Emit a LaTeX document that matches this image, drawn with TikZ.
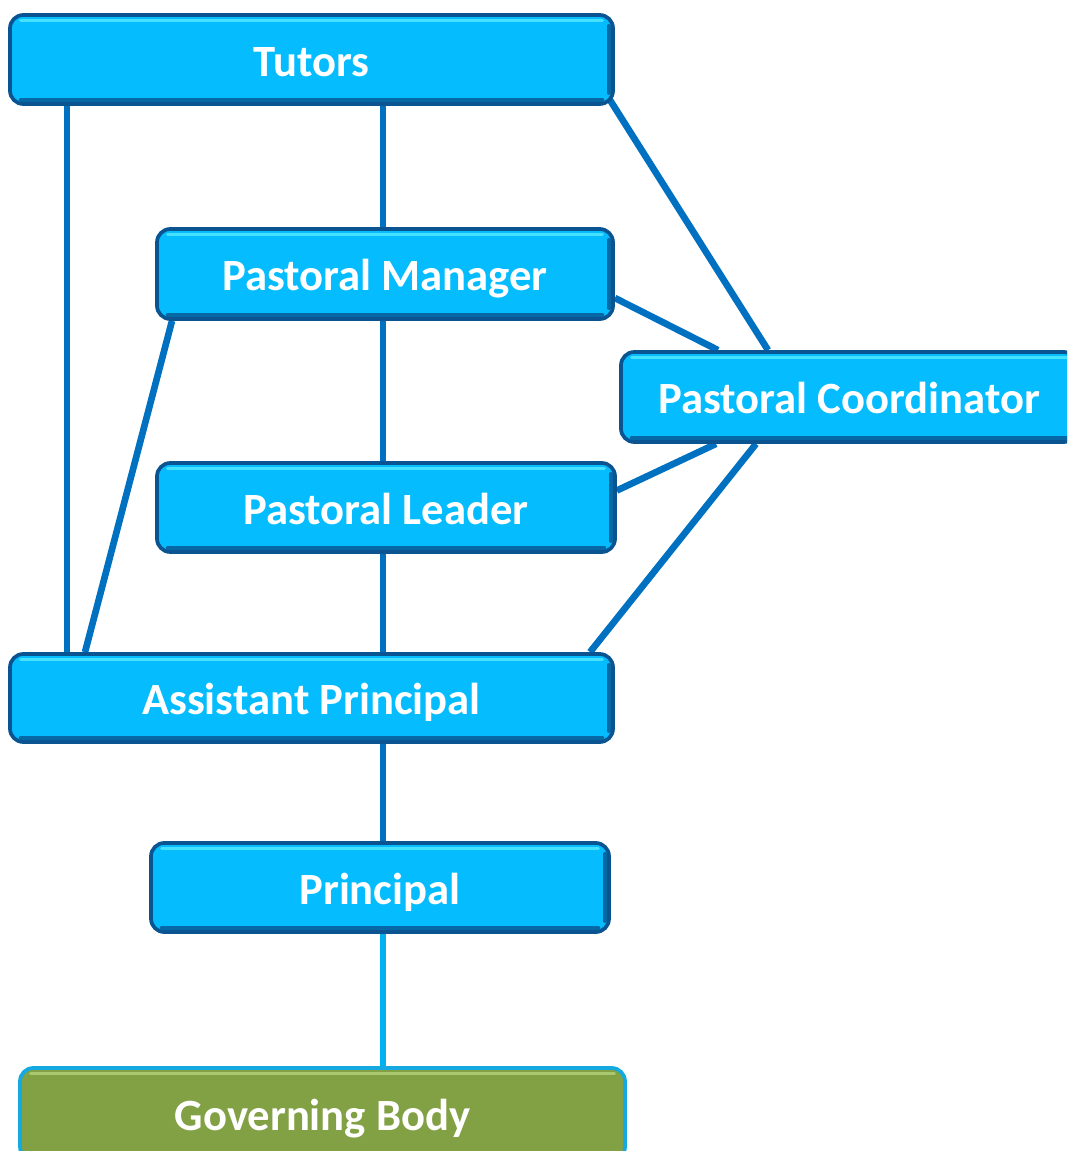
\documentclass[tikz,border=0pt]{standalone}
\usepackage{fontspec}
\setmainfont{Carlito}
\usetikzlibrary{calc}
\pgfdeclarelayer{bg}
\pgfsetlayers{bg,main}
\definecolor{boxfill}{RGB}{5,188,255}
\definecolor{boxedge}{RGB}{10,85,145}
\definecolor{boxhi}{RGB}{70,225,255}
\definecolor{boxdark}{RGB}{6,105,165}
\definecolor{linkdark}{RGB}{0,112,192}
\definecolor{linklight}{RGB}{0,176,240}
\definecolor{gbfill}{RGB}{130,160,68}
\definecolor{gbhi}{RGB}{170,200,110}
\definecolor{gbedge}{RGB}{20,170,225}
\tikzset{
  x=0.75pt, y=-0.75pt,
  box/.style={draw=boxedge, fill=boxfill, line width=2.8pt, rounded corners=10pt,
    text=white, font=\fontsize{33.5}{40}\selectfont\bfseries, inner sep=0pt,
    text height=28pt, text depth=3.2pt,
    path picture={
      \draw[boxhi, line width=2.5pt, line cap=round]
        ([xshift=8pt,yshift=-4pt]path picture bounding box.north west) --
        ([xshift=-8pt,yshift=-4pt]path picture bounding box.north east);
      \draw[boxdark, line width=3pt, line cap=round]
        ([xshift=8pt,yshift=3pt]path picture bounding box.south west) --
        ([xshift=-8pt,yshift=3pt]path picture bounding box.south east);
      \draw[boxdark, line width=2.5pt, line cap=round]
        ([xshift=-3pt,yshift=-8pt]path picture bounding box.north east) --
        ([xshift=-3pt,yshift=8pt]path picture bounding box.south east);
    }},
  gbbox/.style={box, draw=gbedge, fill=gbfill,
    path picture={
      \draw[gbhi, line width=2.5pt, line cap=round]
        ([xshift=8pt,yshift=-4pt]path picture bounding box.north west) --
        ([xshift=-8pt,yshift=-4pt]path picture bounding box.north east);
    }},
  link/.style={draw=linkdark, line width=5pt},
  linklt/.style={draw=linklight, line width=5pt}
}
\begin{document}
\begin{tikzpicture}
\useasboundingbox (0,0) rectangle (1067,1151);
\clip (0,0) rectangle (1067,1151);
\node[box, minimum width=452.25pt, minimum height=66.75pt] (tut) at (311.5,59.5) {Tutors};
\node[box, minimum width=342pt, minimum height=67.5pt] (pm) at (385,274) {Pastoral Manager};
\node[box, minimum width=342pt, minimum height=67.5pt] (pc) at (849,397) {Pastoral Coordinator};
\node[box, minimum width=343.5pt, minimum height=66.75pt] (pl) at (386,507.5) {Pastoral Leader};
\node[box, minimum width=452.25pt, minimum height=66pt] (ap) at (311.5,698) {Assistant Principal};
\node[box, minimum width=343.5pt, minimum height=66.75pt] (pr) at (380,887.5) {Principal};
\node[gbbox, minimum width=453.75pt, minimum height=69pt] (gb) at (322.5,1114) {Governing Body};
\begin{pgfonlayer}{bg}
  % vertical spine
  \draw[link] (tut.south -| 383,0) -- (pm.north -| 383,0);
  \draw[link] (pm.south -| 383,0) -- (pl.north -| 383,0);
  \draw[link] (pl.south -| 383,0) -- (ap.north -| 383,0);
  \draw[link] (ap.south -| 383,0) -- (pr.north -| 383,0);
  \draw[linklt] (pr.south -| 383,0) -- (gb.north -| 383,0);
  % left side
  \draw[link] (tut.south -| 67,0) -- (ap.north -| 67,0);
  \draw[link] (pm.south -| 172,0) -- (ap.north -| 85,0);
  % to Pastoral Coordinator
  \draw[link] ($(tut.south east)+(-5,-6)$) -- (pc.north -| 768,0);
  \draw[link] ($(pm.east)+(0,24)$) -- (pc.north -| 718,0);
  \draw[link] ($(pl.east)+(0,-17)$) -- (pc.south -| 716,0);
  \draw[link] (ap.north -| 590,0) -- (pc.south -| 756,0);
\end{pgfonlayer}
\end{tikzpicture}
\end{document}
